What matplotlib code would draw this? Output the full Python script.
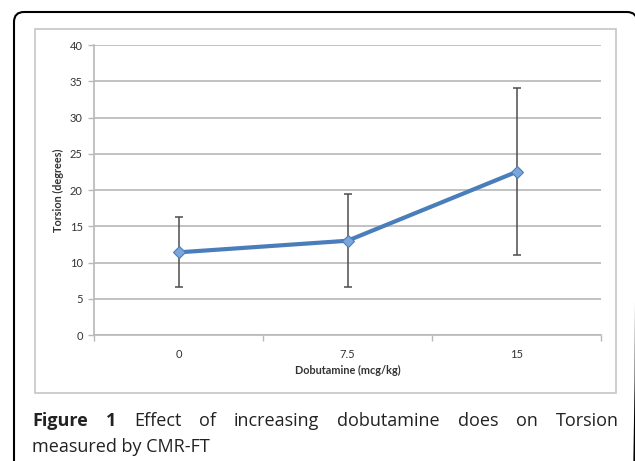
import numpy as np
import matplotlib.pyplot as plt
from matplotlib.patches import FancyBboxPatch, Rectangle

# ── data ─────────────────────────────────────────────────────────────────────
doses = ["0", "7.5", "15"]
torsion_mean = [11.4, 13.0, 22.5]
err_low = [6.6, 6.6, 11.1]      # lower end of bar
err_high = [16.3, 19.45, 34.1]  # upper end of bar
y_ticks = [0, 5, 10, 15, 20, 25, 30, 35, 40]

caption_line1 = [("Figure", "bold"), ("1", "bold"), ("Effect", "normal"),
                 ("of", "normal"), ("increasing", "normal"), ("dobutamine", "normal"),
                 ("does", "normal"), ("on", "normal"), ("Torsion", "normal")]
caption_line2 = "measured by CMR-FT"

# ── colours ──────────────────────────────────────────────────────────────────
LINE_C = "#4a7ebb"
MARK_C = "#7aa6dc"
ERR_C = "#4d4d4d"
GRID_C = "#b8b8b8"
TEXT_C = "#333333"

W, H = 635, 461
fig = plt.figure(figsize=(W / 100, H / 100), dpi=100)

# background axes in pixel coordinates (for frames and caption)
bg = fig.add_axes([0, 0, 1, 1])
bg.set_xlim(0, W)
bg.set_ylim(H, 0)
bg.axis("off")

bg.add_patch(FancyBboxPatch((14, 12), 623, 600,
                            boxstyle="round,pad=0,rounding_size=10",
                            fc="none", ec="black", lw=1.5))
bg.add_patch(Rectangle((35, 29), 581, 364, fc="none", ec="#c6c6c6", lw=1.2))

# ── main chart ───────────────────────────────────────────────────────────────
ax = fig.add_axes([94 / W, 1 - 335 / H, (601 - 94) / W, (335 - 45) / H])
ax.patch.set_alpha(0)
x = np.arange(len(doses))
mean = np.array(torsion_mean)
yerr = [mean - np.array(err_low), np.array(err_high) - mean]

ax.errorbar(x, mean, yerr=yerr, fmt="none", ecolor=ERR_C, elinewidth=1.1,
            capsize=2.6, capthick=1.1, zorder=3)
ax.plot(x, mean, color=LINE_C, lw=3, zorder=4)
ax.plot(x, mean, ls="none", marker="D", ms=6.5, mfc=MARK_C, mec=LINE_C,
        mew=0.8, zorder=5)

ax.set_xlim(-0.5, len(doses) - 0.5)
ax.set_ylim(0, 40)
ax.set_yticks(y_ticks)
ax.grid(axis="y", color=GRID_C, lw=1.2, zorder=0)
ax.set_axisbelow(True)

# category axis: tick marks on boundaries, labels in the middle
ax.set_xticks(x)
ax.set_xticklabels(doses)
ax.set_xticks(np.arange(len(doses) + 1) - 0.5, minor=True)
ax.tick_params(axis="x", which="major", length=0, pad=10)
ax.tick_params(axis="x", which="minor", length=4, color=GRID_C, width=1)
ax.tick_params(axis="y", length=4, color=GRID_C, width=1, pad=4)

for lab in ax.get_xticklabels() + ax.get_yticklabels():
    lab.set_fontfamily("Lato")
    lab.set_fontsize(8)
    lab.set_color(TEXT_C)

for s in ["top", "right"]:
    ax.spines[s].set_visible(False)
for s in ["left", "bottom"]:
    ax.spines[s].set_color(GRID_C)
    ax.spines[s].set_linewidth(1.2)

ax.set_xlabel("Dobutamine (mcg/kg)", fontfamily="Lato", fontsize=7.8,
              fontweight="bold", color=TEXT_C, labelpad=4)
ax.set_ylabel("Torsion (degrees)", fontfamily="Lato", fontsize=7.8,
              fontweight="bold", color=TEXT_C, labelpad=4)

# ── caption (justified first line) ───────────────────────────────────────────
renderer = fig.canvas.get_renderer()
x0, x1, base1, base2 = 32, 619, 426, 452
words = []
for w, wt in caption_line1:
    t = bg.text(0, base1, w, fontfamily="Open Sans", fontsize=13,
                fontweight=wt, color="#222222", va="baseline", ha="left")
    words.append(t)
widths = []
for t in words:
    bb = t.get_window_extent(renderer)
    widths.append(bb.width)
gap = (x1 - x0 - sum(widths)) / (len(words) - 1)
xp = x0
for t, wd in zip(words, widths):
    t.set_x(xp)
    xp += wd + gap

bg.text(x0, base2, caption_line2, fontfamily="Open Sans", fontsize=13,
        color="#222222", va="baseline", ha="left")

fig.savefig("out.png", dpi=100)
